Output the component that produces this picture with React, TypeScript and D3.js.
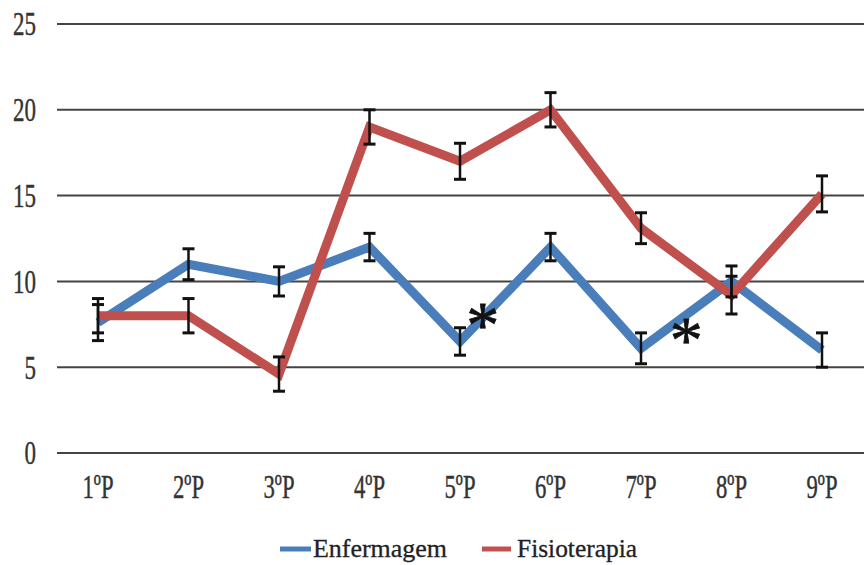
import React from "react";
import * as d3 from "d3";

const categories = ["1ºP", "2ºP", "3ºP", "4ºP", "5ºP", "6ºP", "7ºP", "8ºP", "9ºP"];
const enfermagem = [7.6, 11, 10, 12, 6.5, 12, 6.1, 10, 6];
const enfermagemErr = [1.05, 0.9, 0.85, 0.8, 0.8, 0.8, 0.9, 0.9, 1];
const fisioterapia = [8, 8, 4.6, 19, 17, 20, 13.1, 9.2, 15.1];
const fisioterapiaErr = [1, 1, 1, 1, 1.05, 1, 0.9, 1.1, 1.05];
const yTicks = [0, 5, 10, 15, 20, 25];
// significance markers: fractional category index, value
const markerPos = [4.25, 6.5];
const markerVal = [8, 7.1];

const BLUE = "#4a7ebb";
const RED = "#c0504d";
const SERIF = "Liberation Serif";

export default function App() {
  const W = 864, H = 565;
  const x = d3.scalePoint<string>().domain(categories).range([98, 822]);
  const step = x.step();
  const y = d3.scaleLinear().domain([0, 25]).range([453, 24]);
  const line = d3
    .line<number>()
    .x((_, i) => x(categories[i]) as number)
    .y((d) => y(d));

  const series = [
    { name: "Enfermagem", values: enfermagem, err: enfermagemErr, color: BLUE },
    { name: "Fisioterapia", values: fisioterapia, err: fisioterapiaErr, color: RED },
  ];

  return (
    <svg
      width={W}
      height={H}
      fontFamily={SERIF}
      style={{ position: "absolute", left: 0, top: 0, background: "#fff", fontFamily: SERIF }}
    >
      {yTicks.map((t) => (
        <g key={t}>
          <line x1={57} x2={864} y1={y(t)} y2={y(t)} stroke="#444" strokeWidth={2} />
          <g transform={`translate(36, ${y(t)}) scale(1,1.5)`}>
            <text
              textAnchor="end"
              y={7.6}
              fontSize={23}
              fill="#333"
              stroke="#333"
              strokeWidth={0.3}
              fontFamily={SERIF}
              style={{ fontFamily: SERIF }}
            >
              {t}
            </text>
          </g>
        </g>
      ))}
      {categories.map((c) => (
        <g key={c} transform={`translate(${x(c)}, 486.5) scale(1,1.5)`}>
          <text
            textAnchor="middle"
            y={7.5}
            fontSize={22.7}
            fill="#333"
            stroke="#333"
            strokeWidth={0.3}
            fontFamily={SERIF}
            style={{ fontFamily: SERIF }}
          >
            {c}
          </text>
        </g>
      ))}
      {series.map((s) => (
        <path
          key={s.name}
          d={line(s.values) || ""}
          fill="none"
          stroke={s.color}
          strokeWidth={9}
          strokeLinejoin="miter"
        />
      ))}
      {series.map((s) => (
        <g key={s.name + "err"} stroke="#111" strokeWidth={2.5}>
          {s.values.map((v, i) => {
            const cx = x(categories[i]) as number;
            const y1 = y(v + s.err[i]);
            const y2 = y(v - s.err[i]);
            return (
              <g key={i}>
                <line x1={cx} x2={cx} y1={y1} y2={y2} />
                <line x1={cx - 6} x2={cx + 6} y1={y1} y2={y1} strokeWidth={3} />
                <line x1={cx - 6} x2={cx + 6} y1={y2} y2={y2} strokeWidth={3} />
              </g>
            );
          })}
        </g>
      ))}
      {markerPos.map((p, i) => {
        const cx = (x(categories[0]) as number) + p * step;
        const cy = y(markerVal[i]);
        return (
          <text
            key={i}
            x={cx}
            y={cy + 31}
            textAnchor="middle"
            fontSize={66}
            fill="#111"
            stroke="#111"
            strokeWidth={0.8}
            fontFamily={SERIF}
            style={{ fontFamily: SERIF }}
          >
            *
          </text>
        );
      })}
      <g>
        <line x1={280} x2={311} y1={549} y2={549} stroke={BLUE} strokeWidth={5} />
        <text
          x={313}
          y={557}
          fontSize={25}
          fill="#222"
          stroke="#222"
          strokeWidth={0.3}
          textLength={134}
          lengthAdjust="spacingAndGlyphs"
          fontFamily={SERIF}
          style={{ fontFamily: SERIF }}
        >
          Enfermagem
        </text>
        <line x1={482} x2={511} y1={549} y2={549} stroke={RED} strokeWidth={5} />
        <text
          x={517}
          y={557}
          fontSize={25}
          fill="#222"
          stroke="#222"
          strokeWidth={0.3}
          textLength={120}
          lengthAdjust="spacingAndGlyphs"
          fontFamily={SERIF}
          style={{ fontFamily: SERIF }}
        >
          Fisioterapia
        </text>
      </g>
    </svg>
  );
}
